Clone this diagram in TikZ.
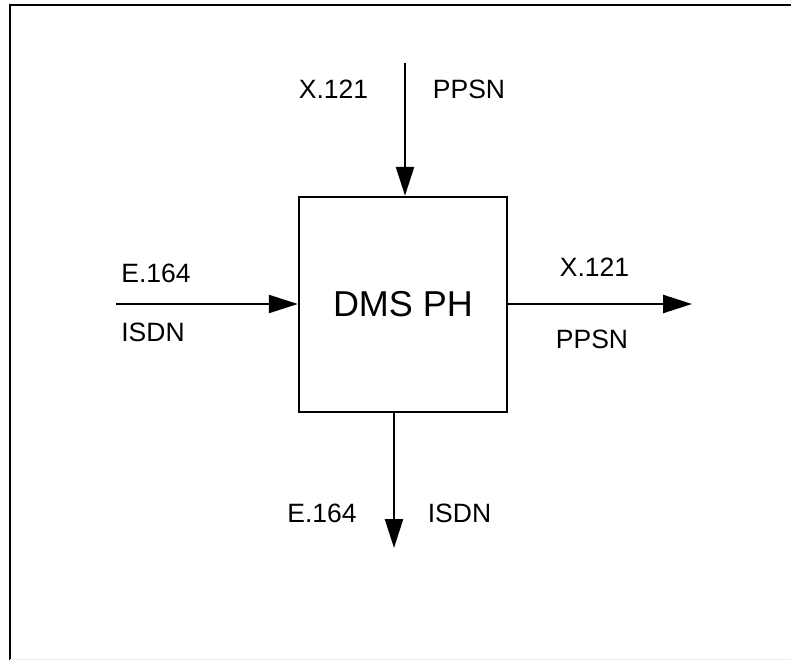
\documentclass[tikz,border=0pt]{standalone}
\usepackage{fontspec}
\setmainfont{Liberation Sans}
\usetikzlibrary{arrows.meta}

\begin{document}
\begin{tikzpicture}[x=1pt,y=-1pt,
  lbl/.style={inner sep=0pt,font=\fontsize{26.5}{30}\selectfont},
  flow/.style={line width=2.4pt,-{Triangle[length=29pt,width=18pt]}}]
\useasboundingbox (0,0) rectangle (791,660);
\draw[line width=2.6pt] (10,660) -- (10,5) -- (791,5);
\draw[gray!15,line width=1pt] (10,659) -- (791,659);
\node[draw,line width=2.4pt,minimum width=208pt,minimum height=215pt,inner sep=0pt,
  font=\fontsize{36}{40}\selectfont] (ph) at (403,304.5) {DMS PH};
\coordinate (intop) at (405,63);
\coordinate (inleft) at (116,304);
\coordinate (outright) at (692,304);
\coordinate (outbot) at (394,548);
\draw[flow] (intop) -- (intop |- ph.north);
\draw[flow] (inleft) -- (inleft -| ph.west);
\draw[flow] (ph.east |- outright) -- (outright);
\draw[flow] (outbot |- ph.south) -- (outbot);
\node[lbl] (topx) at (333.5,89) {X.121};
\node[lbl] (topp) at (469,89) {PPSN};
\node[lbl] (lefte) at (156,273.5) {E.164};
\node[lbl] (lefti) at (153,332) {ISDN};
\node[lbl] (rightx) at (594.5,267.5) {X.121};
\node[lbl] (rightp) at (592,339.5) {PPSN};
\node[lbl] (bote) at (322,513.5) {E.164};
\node[lbl] (boti) at (459.5,513.5) {ISDN};
\end{tikzpicture}
\end{document}
